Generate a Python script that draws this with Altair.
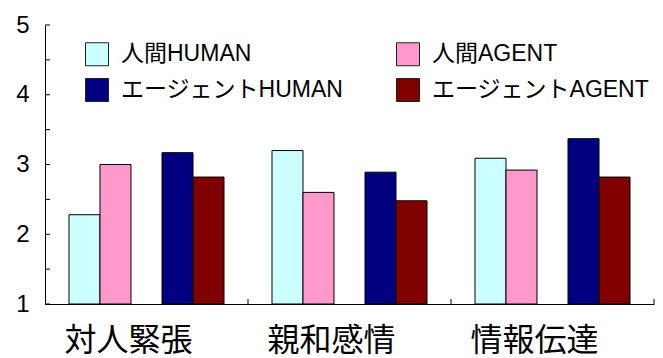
import altair as alt
import pandas as pd

categories = ["対人緊張", "親和感情", "情報伝達"]
series = ["人間HUMAN", "人間AGENT", "エージェントHUMAN", "エージェントAGENT"]
colors = ["#CCFFFF", "#FF99CC", "#000080", "#800000"]

human_human = [2.28, 3.20, 3.09]
human_agent = [3.00, 2.60, 2.92]
agent_human = [3.17, 2.89, 3.37]
agent_agent = [2.82, 2.48, 2.82]

y_labels = [1, 2, 3, 4, 5]
y_ticks = [1, 1.5, 2, 2.5, 3, 3.5, 4, 4.5, 5]

rows = []
for i, c in enumerate(categories):
    for s, vals in zip(series, [human_human, human_agent, agent_human, agent_agent]):
        rows.append({"category": c, "series": s, "value": vals[i]})
df = pd.DataFrame(rows)

# legend fills column by column: put the HUMAN pair in column 1, AGENT pair in column 2
legend_order = [series[0], series[2], series[1], series[3]]
legend_colors = [colors[0], colors[2], colors[1], colors[3]]

offset_domain = [series[0], series[1], "_gap", series[2], series[3]]
latin_cjk = "Liberation Sans, Noto Sans CJK JP"

y_scale = alt.Scale(domain=[1, 5], zero=False, nice=False)
x_scale = alt.Scale(paddingInner=0, paddingOuter=0)
off_scale = alt.Scale(domain=offset_domain, paddingInner=0, paddingOuter=0.774)

bars = alt.Chart(df).mark_bar(stroke="black", strokeWidth=1).encode(
    x=alt.X("category:N", sort=categories, title=None, scale=x_scale,
            axis=alt.Axis(orient="bottom", labelAngle=0, labelFont="Noto Sans CJK JP",
                          labelFontSize=32, labelColor="black", labelOffset=-18,
                          labelPadding=21, ticks=False, tickSize=0,
                          domainColor="black", domainWidth=1)),
    xOffset=alt.XOffset("series:N", scale=off_scale),
    y=alt.Y("value:Q", title=None, scale=y_scale,
            axis=alt.Axis(orient="left", values=y_labels, format="d",
                          labelFont="Liberation Sans",
                          labelFontSize=24, labelColor="black", labelPadding=16,
                          ticks=False, tickSize=0, grid=False,
                          domainColor="black", domainWidth=1)),
    y2=alt.datum(1),
    color=alt.Color("series:N",
                    scale=alt.Scale(domain=legend_order, range=legend_colors),
                    legend=alt.Legend(title=None, orient="none", legendX=40, legendY=17,
                                      columns=2, columnPadding=50, rowPadding=8,
                                      symbolType="square", symbolSize=529,
                                      symbolStrokeColor="#222222", symbolStrokeWidth=1,
                                      symbolOpacity=1,
                                      labelFont=latin_cjk, labelFontSize=23,
                                      labelColor="black", labelOffset=12, labelLimit=400,
                                      padding=0)),
)

# inward-pointing ticks on the value axis (every 0.5)
ytick_df = pd.DataFrame({"value": y_ticks})
y_tick_marks = alt.Chart(ytick_df).mark_tick(
    orient="horizontal", size=5, thickness=1, color="black", opacity=1, xOffset=2.5
).encode(
    y=alt.Y("value:Q", title=None, scale=y_scale),
    x=alt.value(0),
)

# inward-pointing ticks at the category boundaries
xtick_df = pd.DataFrame({"category": categories})
x_tick_marks = alt.Chart(xtick_df).mark_tick(
    orient="vertical", size=5, thickness=1, color="black", opacity=1, yOffset=-2.5
).encode(
    x=alt.X("category:N", sort=categories, title=None, scale=x_scale, bandPosition=1),
    y=alt.datum(1),
)

chart = alt.layer(bars, y_tick_marks, x_tick_marks).properties(
    width=609, height=279,
    autosize=alt.AutoSizeParams(type="none"),
    padding={"left": 45, "top": 25, "right": 9, "bottom": 54},
    background="white",
).configure_view(stroke=None)

chart.save("out.html", embed_options={"renderer": "svg", "actions": False})
